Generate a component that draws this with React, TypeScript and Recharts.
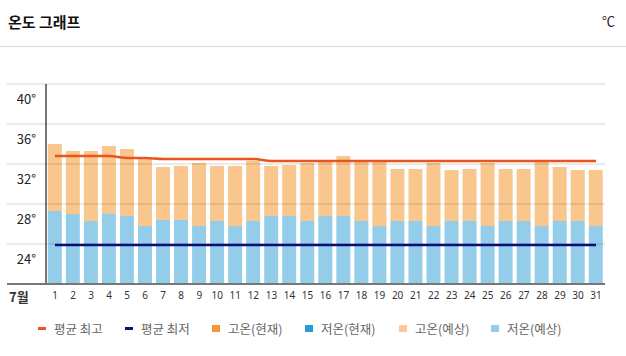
import { ComposedChart, Bar, Line, XAxis, YAxis } from "recharts";

const days = [
  "1", "2", "3", "4", "5", "6", "7", "8", "9", "10", "11", "12", "13", "14", "15", "16",
  "17", "18", "19", "20", "21", "22", "23", "24", "25", "26", "27", "28", "29", "30", "31",
];

// 예상 고온 / 저온 (°C)
const highForecast = [
  34.0, 33.3, 33.3, 33.8, 33.5, 32.5, 31.7, 31.8, 32.1, 31.8, 31.8, 32.3, 31.8, 31.9, 32.1, 32.3,
  32.8, 32.3, 32.3, 31.5, 31.5, 32.1, 31.4, 31.5, 32.1, 31.5, 31.5, 32.3, 31.7, 31.4, 31.4,
];
const lowForecast = [
  27.3, 27.0, 26.3, 27.0, 26.8, 25.8, 26.4, 26.4, 25.8, 26.3, 25.8, 26.3, 26.8, 26.8, 26.3, 26.8,
  26.8, 26.3, 25.8, 26.3, 26.3, 25.8, 26.3, 26.3, 25.8, 26.3, 26.3, 25.8, 26.3, 26.3, 25.8,
];

// 평년 평균
const avgHigh = [
  32.8, 32.8, 32.8, 32.8, 32.6, 32.6, 32.5, 32.5, 32.5, 32.5, 32.5, 32.5, 32.3, 32.3, 32.3, 32.3,
  32.3, 32.3, 32.3, 32.3, 32.3, 32.3, 32.3, 32.3, 32.3, 32.3, 32.3, 32.3, 32.3, 32.3, 32.3,
];
const avgLow = [
  23.9, 23.9, 23.9, 23.9, 23.9, 23.9, 23.9, 23.9, 23.9, 23.9, 23.9, 23.9, 23.9, 23.9, 23.9, 23.9,
  23.9, 23.9, 23.9, 23.9, 23.9, 23.9, 23.9, 23.9, 23.9, 23.9, 23.9, 23.9, 23.9, 23.9, 23.9,
];

const yTicks = [20, 24, 28, 32, 36, 40];
const monthLabel = "7월";

const legendItems = [
  { name: "평균 최고", color: "#e8561f", kind: "line" },
  { name: "평균 최저", color: "#0b0b86", kind: "line" },
  { name: "고온(현재)", color: "#f7963c", kind: "box" },
  { name: "저온(현재)", color: "#2a9ad8", kind: "box" },
  { name: "고온(예상)", color: "#fcc99a", kind: "box" },
  { name: "저온(예상)", color: "#94cdea", kind: "box" },
];
const legendLeft = [38, 125, 212, 305, 399, 491];

const data = days.map((d, i) => ({
  day: d,
  low: lowForecast[i],
  rest: highForecast[i] - lowForecast[i],
  avgHigh: avgHigh[i],
  avgLow: avgLow[i],
}));

const FONT = "'Noto Sans CJK KR', 'Noto Sans', sans-serif";

function YTick(props: any) {
  const { y, payload } = props;
  if (payload.value === 20) {
    return (
      <g>
        <line x1={7} x2={46} y1={y} y2={y} stroke="#777" strokeWidth={2} />
        <text x={9} y={y + 18} fontSize={13} fontWeight={600} fill="#333" fontFamily={FONT}>
          {monthLabel}
        </text>
      </g>
    );
  }
  return (
    <g>
      <line x1={7} x2={605} y1={y} y2={y} stroke="rgba(0,0,0,0.08)" strokeWidth={2} />
      <text x={36} y={y + 20} textAnchor="end" fontSize={13} fill="#222" fontFamily={FONT}>
        {payload.value}°
      </text>
    </g>
  );
}

export default function App() {
  return (
    <div
      style={{
        position: "absolute",
        left: 0,
        top: 0,
        width: 626,
        height: 356,
        background: "#fff",
        fontFamily: FONT,
      }}
    >
      <div style={{ position: "absolute", left: 8, top: 11, fontSize: 15, fontWeight: 600, color: "#111" }}>
        온도 그래프
      </div>
      <div style={{ position: "absolute", left: 602, top: 11, fontSize: 13, color: "#222" }}>℃</div>
      <div style={{ position: "absolute", left: 0, top: 46, width: 626, height: 1, background: "#d9d9d9" }} />

      <div style={{ position: "absolute", left: 0, top: 0 }}>
        <ComposedChart
          width={626}
          height={356}
          data={data}
          margin={{ top: 84, right: 21, bottom: 42, left: 6 }}
          barCategoryGap="10%"
        >
          <XAxis
            dataKey="day"
            interval={0}
            tickLine={false}
            axisLine={{ stroke: "#777", strokeWidth: 2 }}
            tick={{ fontSize: 10, fill: "#333", fontFamily: "'Noto Sans', sans-serif" }}
            tickMargin={2}
            height={30}
          />
          <YAxis
            domain={[20, 40]}
            ticks={yTicks}
            width={40}
            tickLine={false}
            axisLine={{ stroke: "#777", strokeWidth: 2 }}
            tick={<YTick />}
            allowDataOverflow
          />
          <Bar dataKey="low" stackId="t" fill="#94cdea" isAnimationActive={false} />
          <Bar dataKey="rest" stackId="t" fill="#f9c68d" isAnimationActive={false} />
          <Line
            type="monotone"
            dataKey="avgHigh"
            stroke="#e8561f"
            strokeWidth={2.5}
            dot={false}
            isAnimationActive={false}
          />
          <Line
            type="monotone"
            dataKey="avgLow"
            stroke="#0b0b86"
            strokeWidth={2.5}
            dot={false}
            isAnimationActive={false}
          />
        </ComposedChart>
      </div>

      {legendItems.map((it, i) => (
        <div
          key={it.name}
          style={{
            position: "absolute",
            left: legendLeft[i],
            top: 319,
            display: "flex",
            alignItems: "center",
            fontSize: 12.5,
            color: "#666",
            whiteSpace: "nowrap",
          }}
        >
          <span
            style={{
              display: "inline-block",
              width: 8,
              height: it.kind === "line" ? 3 : 7,
              background: it.color,
              marginRight: 8,
            }}
          />
          <span>{it.name}</span>
        </div>
      ))}
    </div>
  );
}
